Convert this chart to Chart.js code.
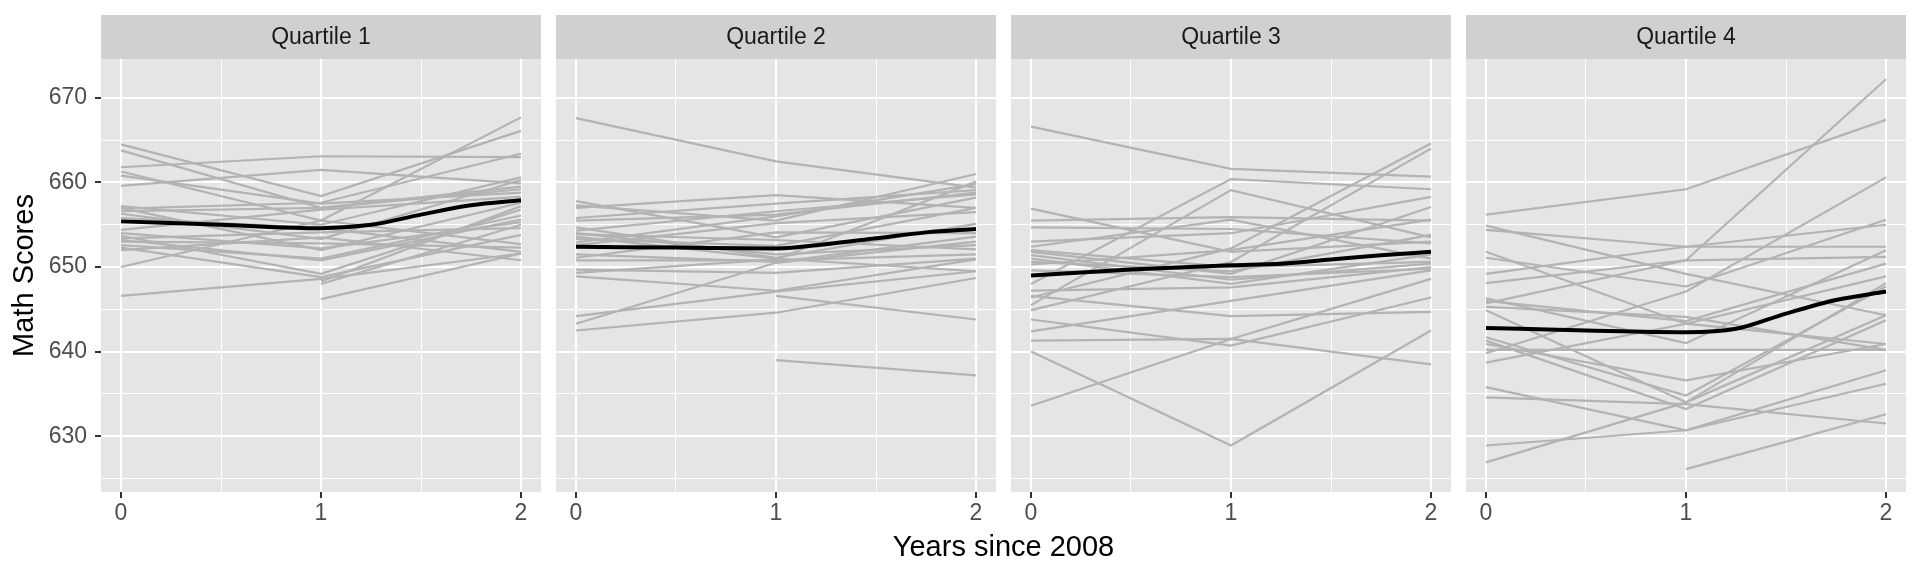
<!DOCTYPE html>
<html>
<head>
<meta charset="utf-8">
<script src="https://cdn.jsdelivr.net/npm/chart.js@4.4.0/dist/chart.umd.min.js"></script>
<style>
  html, body { margin: 0; padding: 0; background: #fff; }
  #wrap { position: relative; width: 1920px; height: 576px; overflow: hidden; }
  #wrap canvas { position: absolute; top: 0; }
  #xtitle {
    position: absolute; left: 101px; width: 1805px; top: 530px;
    text-align: center; line-height: 34px; color: #000;
    font: 29px 'Liberation Sans', Arial, sans-serif;
  }
</style>
</head>
<body>
<div id="wrap">
  <canvas id="q1" width="541" height="576" style="left:0px"></canvas>
  <canvas id="q2" width="440" height="576" style="left:556px"></canvas>
  <canvas id="q3" width="440" height="576" style="left:1011px"></canvas>
  <canvas id="q4" width="440" height="576" style="left:1466px"></canvas>
  <div id="xtitle">Years since 2008</div>
</div>
<script>
// years since 2008, one score per year per student (null = not tested)
const years = [0, 1, 2];

const q1Scores = [
  [664.5, 658.4, 666.1], [663.8, 657.0, 659.5], [661.8, 663.1, 663.0],
  [661.3, 655.5, 667.7], [660.8, 657.5, 658.8], [659.6, 661.5, 659.9],
  [657.2, 655.0, 660.6], [656.9, 657.6, 663.4], [656.6, 657.0, 659.2],
  [656.3, 653.3, 660.3], [654.4, 656.8, 658.3], [654.0, 652.2, 655.3],
  [653.7, 649.2, 656.8], [653.4, 654.1, 654.6], [653.0, 652.8, 652.3],
  [652.6, 651.0, 656.1], [652.3, 648.8, 653.8], [652.0, 653.5, 650.8],
  [650.0, 655.5, 652.7], [646.6, 648.6, 651.6], [657.0, 652.0, 657.6],
  [653.2, 650.8, 655.6], [null, 648.0, 655.0], [null, 646.2, 651.6],
  [null, 648.3, 657.2], [655.8, 654.6, 651.8]
];

const q2Scores = [
  [667.6, 662.5, 659.4], [657.8, 653.5, 658.2], [657.3, 655.5, 661.0],
  [657.0, 658.5, 657.0], [655.8, 657.5, 659.1], [655.5, 656.2, 658.8],
  [654.7, 651.1, 655.1], [654.3, 656.6, 658.6], [653.9, 653.2, 652.1],
  [653.3, 652.5, 657.0], [652.9, 656.0, 659.8], [651.5, 650.6, 653.6],
  [651.1, 654.1, 654.0], [649.7, 649.3, 651.0], [649.3, 650.9, 660.1],
  [648.9, 647.2, 650.9], [644.2, 647.1, 649.5], [643.3, 650.5, 653.0],
  [642.5, 644.6, 648.7], [null, 646.6, 643.8], [null, 639.0, 637.2],
  [654.0, 651.5, 652.6], [652.6, 655.2, 656.5], [650.8, 650.8, 651.5],
  [653.6, 651.0, 649.5]
];

const q3Scores = [
  [666.6, 661.6, 660.7], [648.0, 660.4, 659.2], [645.5, 659.1, 653.5],
  [656.9, 651.8, 653.0], [655.5, 655.9, 655.5], [654.7, 654.5, 652.8],
  [646.4, 652.2, 664.6], [644.9, 650.6, 664.0], [653.0, 654.0, 658.3],
  [652.4, 655.6, 651.0], [651.8, 649.2, 657.1], [651.4, 648.5, 650.4],
  [651.0, 648.0, 651.5], [650.6, 649.5, 653.8], [647.2, 647.6, 650.0],
  [633.6, 641.5, 648.6], [640.0, 628.9, 642.5], [643.8, 640.7, 646.4],
  [642.4, 646.0, 649.6], [641.3, 641.5, 638.5], [646.6, 644.2, 644.7],
  [652.0, 650.0, 650.6], [649.6, 648.8, 649.8], [650.3, 652.0, 655.6]
];

const q4Scores = [
  [656.2, 659.2, 667.4], [645.7, 650.8, 672.2], [639.8, 647.1, 660.6],
  [654.9, 649.2, 644.3], [654.4, 652.4, 655.0], [651.8, 643.3, 640.9],
  [651.1, 647.7, 655.6], [649.2, 652.4, 652.4], [648.1, 650.8, 651.2],
  [646.3, 641.0, 652.0], [645.3, 644.1, 640.2], [644.9, 634.0, 648.1],
  [641.7, 634.8, 647.7], [641.3, 633.2, 643.7], [640.9, 636.6, 640.9],
  [640.2, 640.2, 640.2], [638.7, 643.3, 648.9], [635.8, 630.7, 637.8],
  [634.6, 633.8, 631.5], [628.9, 630.7, 636.2], [626.9, 634.0, 644.3],
  [null, 626.1, 632.6], [646.0, 643.6, 650.4]
];

// black smoothed trend per quartile, read at these years
const smoothYears = [0, 0.5, 1, 1.25, 1.5, 1.75, 2];
const q1Smooth = [655.4, 655.0, 654.6, 655.0, 656.2, 657.3, 657.9];
const q2Smooth = [652.4, 652.3, 652.2, 652.7, 653.4, 654.1, 654.5];
const q3Smooth = [649.0, 649.7, 650.2, 650.4, 650.9, 651.4, 651.8];
const q4Smooth = [642.8, 642.5, 642.3, 642.7, 644.5, 646.1, 647.1];

const panelTitles = ['Quartile 1', 'Quartile 2', 'Quartile 3', 'Quartile 4'];
const xTicks = [0, 0.5, 1, 1.5, 2];
const yTicks = [625, 630, 635, 640, 645, 650, 655, 660, 665, 670];

const FONT = "'Liberation Sans', Arial, sans-serif";
Chart.defaults.font.family = FONT;

// grey panel + strip with the facet label
const panelBg = {
  id: 'panelBg',
  beforeDraw(chart, args, opts) {
    const { ctx, chartArea: a } = chart;
    ctx.save();
    ctx.fillStyle = '#e5e5e5';
    ctx.fillRect(a.left, a.top, a.right - a.left, a.bottom - a.top);
    ctx.fillStyle = '#d0d0d0';
    ctx.fillRect(a.left, 15, a.right - a.left, a.top - 15);
    ctx.fillStyle = '#1a1a1a';
    ctx.font = '23px ' + FONT;
    ctx.textAlign = 'center';
    ctx.textBaseline = 'middle';
    ctx.fillText(opts.title, (a.left + a.right) / 2, (15 + a.top) / 2 + 1);
    ctx.restore();
  }
};

function makePanel(id, scores, smooth, title, first) {
  const datasets = [{
    data: smoothYears.map((x, i) => ({ x: x, y: smooth[i] })),
    borderColor: '#000',
    borderWidth: 4,
    cubicInterpolationMode: 'monotone'
  }];
  scores.forEach(s => {
    datasets.push({
      data: years.map((x, i) => ({ x: x, y: s[i] })),
      borderColor: '#b3b3b3',
      borderWidth: 2.2
    });
  });

  new Chart(document.getElementById(id), {
    type: 'line',
    data: { datasets: datasets },
    plugins: [panelBg],
    options: {
      responsive: false,
      animation: false,
      events: [],
      layout: { padding: { top: 59, left: 0, right: 0, bottom: 0 } },
      elements: { point: { radius: 0 }, line: { tension: 0 } },
      plugins: {
        legend: { display: false },
        tooltip: { enabled: false },
        panelBg: { title: title }
      },
      scales: {
        x: {
          type: 'linear',
          min: -0.1,
          max: 2.1,
          afterBuildTicks: s => { s.ticks = xTicks.map(v => ({ value: v })); },
          afterFit: s => { s.height = 84; },
          border: { display: false },
          grid: {
            color: '#fff',
            lineWidth: c => (c.tick && Number.isInteger(c.tick.value)) ? 2 : 1,
            tickLength: 6,
            tickColor: c => (c.tick && Number.isInteger(c.tick.value)) ? '#333' : 'rgba(0,0,0,0)',
            tickWidth: 2
          },
          ticks: {
            padding: 2,
            color: '#4d4d4d',
            font: { size: 23 },
            maxRotation: 0,
            callback: v => Number.isInteger(v) ? String(v) : ''
          }
        },
        y: {
          min: 623.4,
          max: 674.6,
          afterBuildTicks: s => { s.ticks = yTicks.map(v => ({ value: v })); },
          afterFit: s => { s.width = first ? 101 : 0; },
          border: { display: false },
          title: {
            display: first,
            text: 'Math Scores',
            color: '#000',
            font: { size: 29 },
            padding: { top: 8, bottom: 0 }
          },
          grid: {
            color: '#fff',
            lineWidth: c => (c.tick && c.tick.value % 10 === 0) ? 2 : 1,
            drawTicks: first,
            tickLength: 6,
            tickColor: c => (c.tick && c.tick.value % 10 === 0) ? '#333' : 'rgba(0,0,0,0)',
            tickWidth: 2
          },
          ticks: {
            display: first,
            padding: 8,
            color: '#4d4d4d',
            font: { size: 23 },
            callback: v => (v % 10 === 0) ? String(v) : ''
          }
        }
      }
    }
  });
}

makePanel('q1', q1Scores, q1Smooth, panelTitles[0], true);
makePanel('q2', q2Scores, q2Smooth, panelTitles[1], false);
makePanel('q3', q3Scores, q3Smooth, panelTitles[2], false);
makePanel('q4', q4Scores, q4Smooth, panelTitles[3], false);
</script>
</body>
</html>
